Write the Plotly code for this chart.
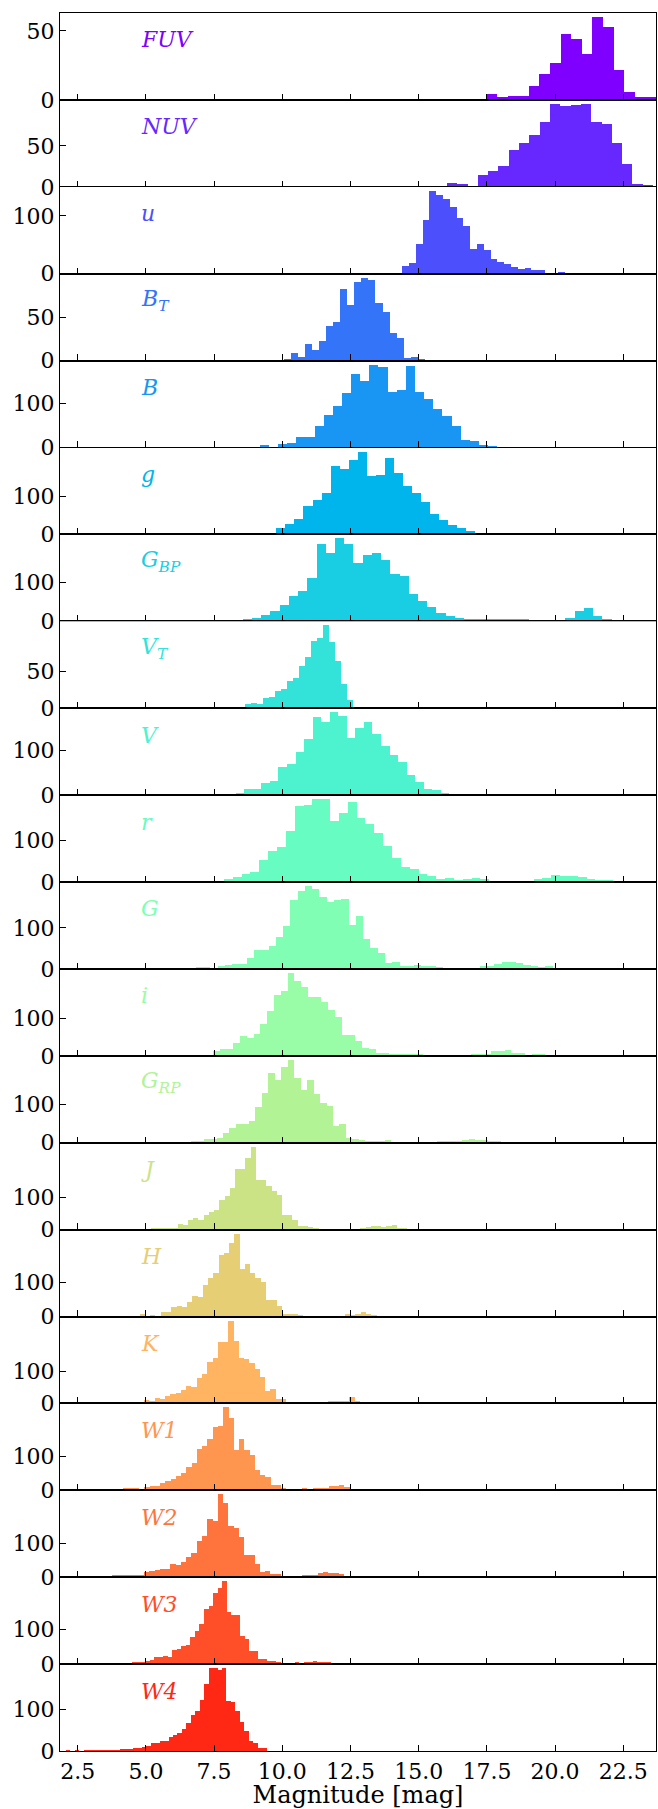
import numpy as np
import plotly.graph_objects as go
from plotly.subplots import make_subplots

# ---------------- data ----------------
band_labels = ["<i>FUV</i>", "<i>NUV</i>", "<i>u</i>", "<i>B<sub>T</sub></i>", "<i>B</i>",
               "<i>g</i>", "<i>G<sub>BP</sub></i>", "<i>V<sub>T</sub></i>", "<i>V</i>", "<i>r</i>",
               "<i>G</i>", "<i>i</i>", "<i>G<sub>RP</sub></i>", "<i>J</i>", "<i>H</i>",
               "<i>K</i>", "<i>W1</i>", "<i>W2</i>", "<i>W3</i>", "<i>W4</i>"]

# first bin edge and bin width (mag) for each band
bin_start = [17.478, 15.656, 11.16, 8.754, 9.171, 9.124, 8.213, 6.638, 8.290, 7.210,
             6.824, 7.210, 5.928, 5.202, 4.770, 4.353, 4.168, 3.195, 3.974, 2.071]
bin_width = [0.389, 0.378, 0.249, 0.259, 0.335, 0.3305, 0.338, 0.2208, 0.3135, 0.3243,
             0.267, 0.2486, 0.2372, 0.1915, 0.193, 0.193, 0.193, 0.193, 0.166, 0.1634]

fuv = [4, 2, 3, 3, 10, 19, 27, 48, 44, 33, 60, 53, 22, 6, 2, 2]
nuv = [1, 5, 3, 1, 14, 20, 25, 45, 53, 63, 79, 101, 99, 100, 101, 79, 77, 53, 28, 4, 2]
u = [1, 0, 0, 0, 1, 0, 0, 1, 0, 0, 0, 1, 1, 13, 18, 52, 94, 143, 136, 129, 116, 97, 83, 43,
     52, 41, 26, 20, 17, 12, 9, 10, 6, 6, 0, 0, 4, 0, 0, 0, 0, 0, 0, 1, 1, 0, 0, 1, 1, 1]
bt = [1, 0, 1, 1, 1, 2, 9, 5, 19, 13, 23, 40, 45, 83, 64, 90, 95, 93, 67, 56, 32, 26, 3, 5, 2, 1]
b = [6, 0, 8, 11, 25, 25, 49, 75, 96, 124, 168, 152, 188, 183, 126, 131, 186, 128, 110, 89,
     72, 50, 19, 15, 6, 3, 1]
g = [3, 0, 18, 30, 41, 75, 91, 110, 181, 174, 196, 218, 155, 158, 203, 163, 128, 110, 86, 56,
     38, 27, 17, 9, 3, 2, 2, 3, 3, 6, 0, 0, 0, 0, 0, 0, 0, 3, 5, 5, 3, 3, 3]
gbp = [2, 4, 8, 15, 25, 41, 65, 77, 110, 197, 175, 213, 197, 149, 170, 175, 157, 120, 115, 70,
       50, 37, 20, 13, 8, 3, 5, 3, 5, 5, 5, 3, 0, 0, 2, 0, 8, 26, 34, 13, 3]
vt = [1, 0, 0, 0, 1, 1, 0, 1, 1, 5, 6, 5, 13, 15, 23, 26, 36, 41, 57, 69, 91, 95, 112, 89, 63,
      33, 11, 1]
v = [5, 13, 14, 26, 32, 62, 68, 95, 125, 175, 163, 185, 177, 127, 150, 163, 136, 110, 89, 73,
     45, 28, 14, 10, 3]
r = [2, 2, 6, 11, 19, 23, 52, 74, 83, 122, 182, 184, 198, 198, 146, 165, 192, 154, 138, 117,
     86, 57, 36, 32, 19, 14, 7, 9, 4, 6, 9, 6, 2, 0, 0, 0, 0, 6, 10, 17, 14, 14, 11, 6, 4, 3]
gg = [3, 3, 0, 6, 10, 11, 13, 26, 47, 45, 55, 79, 104, 168, 190, 202, 195, 175, 164, 168, 170,
      107, 129, 72, 52, 40, 15, 18, 8, 6, 9, 8, 6, 3, 0, 0, 0, 0, 0, 6, 8, 11, 18, 18, 14, 10,
      8, 5, 6]
ii = [2, 12, 19, 18, 35, 54, 49, 60, 85, 121, 164, 175, 223, 202, 185, 158, 158, 145, 125, 104,
      55, 55, 39, 21, 18, 8, 8, 6, 4, 5, 5, 3, 0, 0, 0, 0, 0, 0, 0, 3, 5, 6, 12, 12, 17, 7, 8,
      2, 3, 3]
grp = [2, 2, 2, 6, 5, 9, 9, 12, 27, 38, 50, 50, 57, 94, 132, 183, 167, 199, 218, 170, 140, 167,
       129, 105, 96, 45, 50, 12, 10, 8, 4, 6, 3, 8, 0, 0, 0, 0, 0, 0, 0, 3, 3, 5, 5, 8, 10, 8,
       8, 4, 3]
jj = [7, 7, 4, 4, 5, 18, 15, 30, 36, 30, 46, 56, 61, 94, 104, 131, 189, 189, 221, 256, 153, 153,
      137, 119, 107, 45, 45, 31, 11, 12, 9, 4, 1, 0, 0, 0, 0, 0, 0, 0, 6, 10, 11, 12, 10, 13,
      16, 6, 3]
hh = [8, 2, 5, 1, 14, 14, 28, 32, 30, 44, 60, 57, 92, 113, 128, 180, 188, 215, 242, 140, 155,
      129, 115, 102, 50, 48, 33, 8, 8, 8, 5, 2, 0, 0, 0, 0, 0, 1, 2, 8, 4, 8, 14, 8, 5, 2]
kk = [7, 0, 5, 13, 10, 18, 15, 25, 32, 34, 44, 55, 53, 81, 93, 130, 142, 192, 192, 257, 194,
      144, 139, 127, 109, 83, 41, 47, 15, 15, 5, 3, 0, 0, 0, 0, 0, 0, 8, 8, 8, 8, 21, 10, 6, 3]
w1 = [3, 5, 3, 2, 10, 12, 12, 20, 26, 32, 41, 49, 67, 80, 121, 130, 150, 186, 190, 246, 213,
      118, 151, 118, 103, 60, 45, 38, 16, 16, 6, 2, 0, 0, 3, 2, 6, 4, 6, 13, 13, 15, 8]
w2 = [1, 1, 1, 4, 7, 4, 4, 4, 4, 13, 18, 19, 23, 23, 37, 35, 43, 57, 70, 105, 119, 169, 163,
      243, 216, 149, 145, 117, 64, 65, 38, 13, 16, 8, 8, 0, 0, 0, 2, 3, 6, 3, 10, 15, 11, 12, 8]
w3 = [2, 2, 2, 4, 4, 4, 7, 10, 21, 21, 23, 21, 39, 42, 51, 54, 79, 94, 116, 158, 168, 206, 220,
      239, 150, 142, 140, 82, 72, 38, 37, 15, 14, 9, 7, 4, 1, 2, 2, 3, 2, 6, 4, 9, 5, 5, 6]
w4 = [1, 0, 1, 0, 1, 1, 1, 1, 1, 2, 2, 2, 5, 5, 5, 7, 7, 10, 12, 20, 20, 24, 24, 34, 38, 44, 52,
      67, 86, 96, 122, 159, 198, 198, 194, 198, 120, 118, 96, 68, 48, 24, 18, 6, 6]

counts = [fuv, nuv, u, bt, b, g, gbp, vt, v, r, gg, ii, grp, jj, hh, kk, w1, w2, w3, w4]
y_ticks = [[0, 50], [0, 50], [0, 100], [0, 50]] + [[0, 100]] * 3 + [[0, 50]] + [[0, 100]] * 12
x_ticks = [2.5, 5.0, 7.5, 10.0, 12.5, 15.0, 17.5, 20.0, 22.5]
x_range = [1.85, 23.7]

# ---------------- colours (matplotlib 'rainbow' colormap) ----------------
def rainbow(x):
    rr = min(1.0, abs(2 * x - 0.5))
    gg_ = np.sin(np.pi * x)
    bb = np.cos(np.pi * x / 2)
    return "rgb(%d,%d,%d)" % (round(rr * 255), round(gg_ * 255), round(bb * 255))

n = len(counts)
colors = [rainbow(i / n) for i in range(n)]

FONT = "DejaVu Serif"
TICK_SIZE = 22

fig = make_subplots(rows=n, cols=1, shared_xaxes=True, vertical_spacing=0)

for i in range(n):
    c = np.array(counts[i], dtype=float)
    k = np.arange(len(c))
    centers = bin_start[i] + bin_width[i] * (k + 0.5)
    fig.add_trace(go.Bar(x=centers, y=c, width=bin_width[i], marker_color=colors[i],
                         marker_line_width=0, showlegend=False, hoverinfo="skip"),
                  row=i + 1, col=1)
    fig.update_yaxes(range=[0, c.max() * 1.05], tickvals=y_ticks[i],
                     ticktext=[str(t) for t in y_ticks[i]],
                     ticks="inside", ticklen=6, tickwidth=1.2, tickcolor="black",
                     showline=True, linecolor="black", linewidth=1.3, mirror=True,
                     showgrid=False, zeroline=False,
                     tickfont=dict(family=FONT, size=TICK_SIZE, color="black"),
                     row=i + 1, col=1)
    fig.update_xaxes(range=x_range, tickvals=x_ticks,
                     ticktext=["%.1f" % t for t in x_ticks],
                     ticks="inside", ticklen=6, tickwidth=1.2, tickcolor="black",
                     showline=True, linecolor="black", linewidth=1.3, mirror=True,
                     showgrid=False, zeroline=False,
                     tickfont=dict(family=FONT, size=TICK_SIZE, color="black"),
                     row=i + 1, col=1)
    xref = "x domain" if i == 0 else "x%d domain" % (i + 1)
    yref = "y domain" if i == 0 else "y%d domain" % (i + 1)
    fig.add_annotation(text=band_labels[i], x=0.132, y=0.69, xref=xref, yref=yref,
                       xanchor="left", yanchor="middle", showarrow=False,
                       font=dict(family=FONT, size=22, color=colors[i]))

fig.update_xaxes(title_text="Magnitude [mag]",
                 title_font=dict(family=FONT, size=24, color="black"),
                 title_standoff=4, row=n, col=1)

fig.update_layout(width=658, height=1809, margin=dict(l=60, r=2, t=13, b=58),
                  plot_bgcolor="white", paper_bgcolor="white", bargap=0)

fig.write_html("out.html")
